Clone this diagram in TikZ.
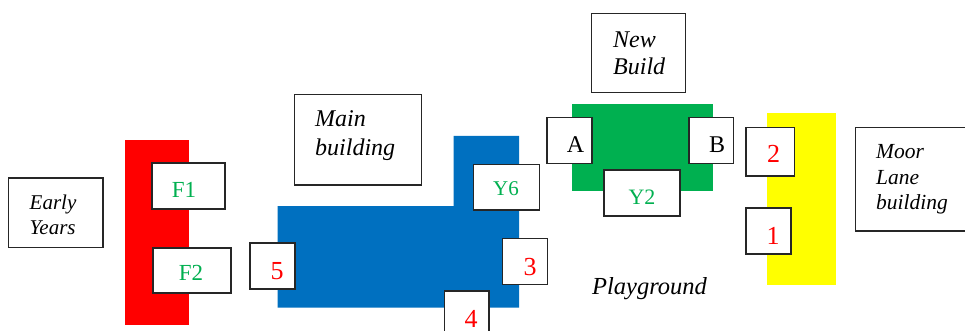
\documentclass[tikz,border=0pt]{standalone}
\usepackage{fontspec}
\setmainfont{Liberation Serif}
\definecolor{sblue}{HTML}{0070C0}
\definecolor{sgreen}{HTML}{00B050}
\definecolor{syellow}{HTML}{FFFF00}
\definecolor{sred}{HTML}{FF0000}
\tikzset{
  areafill/.style={draw=none},
  roombox/.style={draw=black!85,line width=1.2pt,fill=white,rectangle,inner sep=0pt},
  placelabel/.style={anchor=base west,inner sep=0pt,font=\fontsize{#1}{#1}\selectfont\itshape},
  redlabel/.style={anchor=base,inner sep=0pt,text=sred,font=\fontsize{26}{26}\selectfont},
  greenlabel/.style={anchor=base,inner sep=0pt,text=sgreen,font=\fontsize{#1}{#1}\selectfont},
  blacklabel/.style={anchor=base,inner sep=0pt,text=black,font=\fontsize{24}{24}\selectfont},
}
\newcommand{\roomat}[5]{\node[roombox,minimum width=#4pt-#2pt,minimum height=#5pt-#3pt] (#1) at ({(#2+#4)/2},{(#3+#5)/2}) {};}
\begin{document}
\begin{tikzpicture}[x=1pt,y=-1pt]
\useasboundingbox (0,0) rectangle (965,331);
\clip (0,0) rectangle (965,331);
\fill[white] (0,0) rectangle (965,331);
% coloured buildings
\fill[areafill,sred] (125,140.5) rectangle (188.5,324.5);
\fill[areafill,sblue] (277.5,206) -- (453.5,206) -- (453.5,136) -- (519,136) -- (519,307.5) -- (277.5,307.5) -- cycle;
\fill[areafill,sgreen] (572,104) rectangle (713,191);
\fill[areafill,syellow] (767,113) rectangle (835.5,284.5);
% boxes
\roomat{early}{8.5}{178}{103}{247.7}
\roomat{f1}{152}{163}{225}{209}
\roomat{f2}{153}{248}{231}{293}
\roomat{five}{250}{243}{295}{289}
\roomat{main}{294.7}{94.7}{421.7}{185}
\roomat{y6}{473.7}{164.3}{539.5}{210}
\roomat{three}{502.7}{238.7}{547.5}{284.3}
\roomat{four}{444.3}{291}{489}{340}
\roomat{newb}{591.7}{13.5}{685.7}{92.5}
\roomat{a}{547}{117.5}{592}{163.5}
\roomat{b}{689}{117.5}{733.5}{163.5}
\roomat{y2}{604}{170}{680}{216}
\roomat{two}{746}{127.5}{794.5}{176}
\roomat{one}{746}{208}{791}{254}
\roomat{moor}{855.5}{127.5}{975}{231}
% place names
\node[placelabel=21] (tearly1) at (29.5,209) {Early};
\node[placelabel=21] (tearly2) at (29.5,234) {Years};
\node[placelabel=24] (tmain1) at (315,127) {Main};
\node[placelabel=24] (tmain2) at (315,156) {building};
\node[placelabel=24] (tnew1) at (613,48) {New};
\node[placelabel=24] (tnew2) at (613,75) {Build};
\node[placelabel=21.5] (tmoor1) at (876,159) {Moor};
\node[placelabel=21.5] (tmoor2) at (876,184) {Lane};
\node[placelabel=21.5] (tmoor3) at (876,209) {building};
\node[placelabel=24.5] (tplay) at (592,294) {Playground};
% room labels
\node[greenlabel=23] (tf1) at (184,197) {F1};
\node[greenlabel=23] (tf2) at (191,280) {F2};
\node[greenlabel=21] (ty6) at (506,195) {Y6};
\node[greenlabel=22] (ty2) at (642,204) {Y2};
\node[redlabel] (t5) at (277,279) {5};
\node[redlabel] (t3) at (530,275) {3};
\node[redlabel] (t4) at (471,327) {4};
\node[redlabel] (t2) at (773.5,163) {2};
\node[redlabel] (t1) at (773,244) {1};
\node[blacklabel] (ta) at (575.5,153) {A};
\node[blacklabel] (tb) at (717,153) {B};
\end{tikzpicture}
\end{document}
